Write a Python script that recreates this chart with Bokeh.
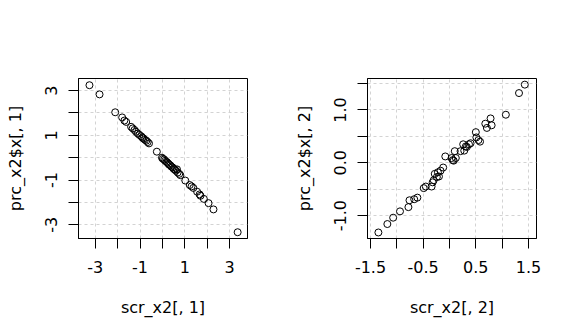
from bokeh.plotting import figure
from bokeh.layouts import row
from bokeh.models import FixedTicker, Range1d
from bokeh.embed import file_html
from bokeh.resources import INLINE

# ---- data: panel 1 (scr_x2[,1] vs prc_x2$x[,1]) ----
scr1 = [-3.26, -2.81, -2.11, -1.80, -1.70, -1.62, -1.40, -1.33, -1.25, -1.18,
        -1.10, -1.03, -0.95, -0.90, -0.85, -0.78, -0.72, -0.66, -0.60, -0.25,
        -0.02, 0.02, 0.08, 0.12, 0.18, 0.22, 0.27, 0.30, 0.35, 0.40,
        0.45, 0.50, 0.55, 0.60, 0.65, 0.68, 0.75, 0.80, 1.02, 1.22,
        1.30, 1.38, 1.55, 1.66, 1.70, 1.85, 2.06, 2.28, 3.36]
prc1 = [3.24, 2.83, 2.03, 1.80, 1.66, 1.60, 1.38, 1.31, 1.24, 1.16,
        1.08, 1.02, 0.96, 0.90, 0.86, 0.80, 0.76, 0.70, 0.64, 0.27,
        0.00, -0.05, -0.08, -0.14, -0.18, -0.22, -0.27, -0.31, -0.34, -0.40,
        -0.43, -0.50, -0.52, -0.58, -0.52, -0.66, -0.72, -0.78, -1.02, -1.22,
        -1.28, -1.35, -1.52, -1.64, -1.70, -1.84, -2.03, -2.31, -3.33]

# ---- data: panel 2 (scr_x2[,2] vs prc_x2$x[,2]) ----
scr2 = [-1.35, -1.18, -1.07, -0.94, -0.78, -0.76, -0.67, -0.61, -0.49, -0.45,
        -0.34, -0.32, -0.28, -0.24, -0.22, -0.20, -0.17, -0.12, -0.08, 0.04,
        0.08, 0.10, 0.12, 0.21, 0.26, 0.28, 0.31, 0.37, 0.40, 0.50,
        0.51, 0.55, 0.58, 0.68, 0.71, 0.78, 0.80, 1.07, 1.32, 1.43,
        -0.30, 0.06, 0.33]
prc2 = [-1.32, -1.16, -1.04, -0.92, -0.84, -0.71, -0.69, -0.66, -0.48, -0.45,
        -0.45, -0.37, -0.21, -0.27, -0.18, -0.26, -0.15, -0.09, 0.12, 0.09,
        0.04, 0.22, 0.09, 0.22, 0.35, 0.23, 0.31, 0.35, 0.37, 0.58,
        0.48, 0.43, 0.40, 0.74, 0.66, 0.84, 0.71, 0.91, 1.32, 1.48,
        -0.33, 0.05, 0.30]

# ---- ticks ----
x1_ticks = [-3, -2, -1, 0, 1, 2, 3]
x1_labels = ["-3", "", "-1", "", "1", "", "3"]
y1_ticks = [-3, -2, -1, 0, 1, 2, 3]
y1_labels = ["-3", "", "-1", "", "1", "", "3"]
x2_ticks = [-1.5, -1.0, -0.5, 0.0, 0.5, 1.0, 1.5]
x2_labels = ["-1.5", "", "-0.5", "", "0.5", "", "1.5"]
y2_ticks = [-1.0, -0.5, 0.0, 0.5, 1.0, 1.5]
y2_labels = ["-1.0", "", "0.0", "", "1.0", ""]

FONT = "DejaVu Sans"
FS = "16px"
H = 334


def panel(xs, ys, xr, yr, xt, xl, yt, yl, xlabel, ylabel, width, bl, bt, br, fh):
    p = figure(width=width, height=H, output_backend="svg", toolbar_location=None,
               x_range=Range1d(*xr), y_range=Range1d(*yr),
               min_border_left=bl, min_border_top=bt, min_border_right=br,
               min_border_bottom=H - bt - fh)
    p.background_fill_color = "white"
    p.border_fill_color = "white"
    p.outline_line_color = "black"
    p.outline_line_width = 1
    p.outline_line_alpha = 1
    for ax, ticks, labels, lab in ((p.xaxis[0], xt, xl, xlabel), (p.yaxis[0], yt, yl, ylabel)):
        ax.ticker = FixedTicker(ticks=ticks)
        ax.major_label_overrides = {t: s for t, s in zip(ticks, labels)}
        ax.axis_label = lab
        ax.axis_label_text_font = FONT
        ax.axis_label_text_font_size = FS
        ax.axis_label_text_font_style = "normal"
        ax.axis_label_text_color = "black"
        ax.major_label_text_font = FONT
        ax.major_label_text_font_size = FS
        ax.major_label_text_color = "black"
        ax.axis_line_color = "black"
        ax.major_tick_line_color = "black"
        ax.major_tick_out = 10
        ax.major_tick_in = 0
        ax.minor_tick_line_color = None
    p.xaxis.major_label_standoff = 12
    p.xaxis.axis_label_standoff = 22
    p.yaxis.major_label_orientation = "vertical"
    p.yaxis.major_label_standoff = 11
    p.yaxis.axis_label_standoff = 18
    for g in (p.xgrid[0], p.ygrid[0]):
        g.grid_line_color = "#d3d3d3"
        g.grid_line_dash = "3 3"
        g.grid_line_width = 1
    p.scatter(xs, ys, marker="circle", size=7, fill_color=None,
              line_color="black", line_width=1)
    return p


p1 = panel(scr1, prc1, (-3.75, 3.80), (-3.61, 3.54), x1_ticks, x1_labels, y1_ticks, y1_labels,
           "scr_x2[, 1]", "prc_x2$x[, 1]", 288, 78, 77, 41, 161)
p2 = panel(scr2, prc2, (-1.557, 1.652), (-1.434, 1.596), x2_ticks, x2_labels, y2_ticks, y2_labels,
           "scr_x2[, 2]", "prc_x2$x[, 2]", 288, 79, 78, 40, 160)

layout = row(p1, p2, spacing=0)
open("out.html", "w").write(file_html(layout, INLINE))
